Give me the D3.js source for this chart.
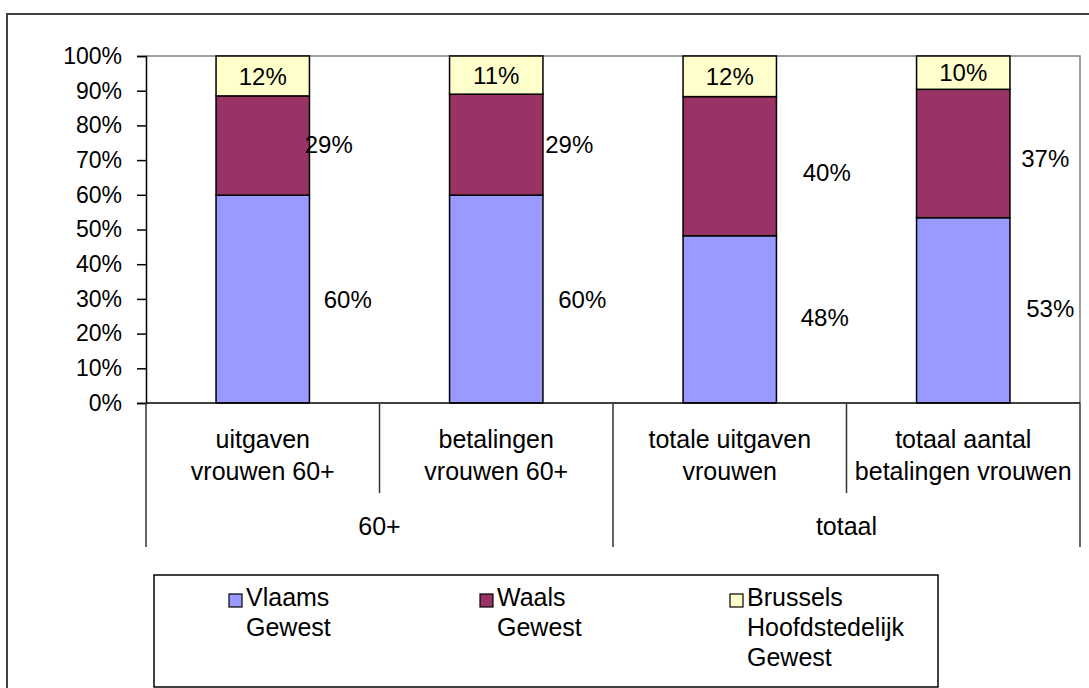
<!DOCTYPE html>
<html>
<head>
<meta charset="utf-8">
<script src="https://cdn.jsdelivr.net/npm/d3@7"></script>
<style>
  body { margin: 0; background: #fff; }
  svg text { font-family: "Liberation Sans", Arial, sans-serif; fill: #000; }
</style>
</head>
<body>
<svg width="1089" height="688"></svg>
<script>
// categorieen (twee niveaus)
const categories = [
  ['uitgaven', 'vrouwen 60+'],
  ['betalingen', 'vrouwen 60+'],
  ['totale uitgaven', 'vrouwen'],
  ['totaal aantal', 'betalingen vrouwen']
]
const groups = [
  {name: '60+', from: 0, to: 1},
  {name: 'totaal', from: 2, to: 3}
]
const seriesNames = [['Vlaams', 'Gewest'], ['Waals', 'Gewest'], ['Brussels', 'Hoofdstedelijk', 'Gewest']]
const vlaams = [59.9, 59.9, 48.2, 53.4]
const waals = [28.6, 29.1, 40.1, 37.0]
const brussels = [11.5, 11.0, 11.7, 9.6]
const yTicks = [0, 10, 20, 30, 40, 50, 60, 70, 80, 90, 100]
const colors = ['#9999FF', '#993366', '#FFFFCC']

// verschuiving van de labels (zoals handmatig verplaatst)
const labelDx = [[85, 86, 95, 87], [66, 73, 97, 82], [0, 0, 0, 0]]
const labelDy = [[0, 0, -2, -2], [-1, 0, 6, 5], [0, 0, 0, 0]]

const svg = d3.select('svg')
const pLeft = 146, pRight = 1080, pTop = 56, pBottom = 403

// buitenrand
svg.append('rect')
  .attr('x', 7).attr('y', 14).attr('width', 1100).attr('height', 700)
  .attr('fill', 'none').attr('stroke', '#404040').attr('stroke-width', 2)

const x = d3.scaleBand().domain(d3.range(categories.length)).range([pLeft, pRight]).paddingInner(0.6).paddingOuter(0.3)
const xBand = d3.scaleBand().domain(d3.range(categories.length)).range([pLeft, pRight])
const y = d3.scaleLinear().domain([0, 100]).range([pBottom, pTop])

// plotrand
svg.append('path')
  .attr('d', `M${pLeft},${pTop}H${pRight}V${pBottom}`)
  .attr('fill', 'none').attr('stroke', '#808080').attr('stroke-width', 1.5)

const table = categories.map((c, i) => ({i: i, v0: vlaams[i], v1: waals[i], v2: brussels[i]}))
const stack = d3.stack().keys(['v0', 'v1', 'v2'])(table)

const layers = svg.selectAll('g.layer').data(stack).enter().append('g')
  .attr('fill', (d, k) => colors[k])
layers.selectAll('rect').data(d => d).enter().append('rect')
  .attr('x', d => x(d.data.i))
  .attr('width', x.bandwidth())
  .attr('y', d => y(d[1]))
  .attr('height', d => y(d[0]) - y(d[1]))
  .attr('stroke', '#000').attr('stroke-width', 1.5)

// labels
stack.forEach((layer, k) => {
  layer.forEach((d, i) => {
    svg.append('text')
      .attr('x', x(i) + x.bandwidth() / 2 + labelDx[k][i])
      .attr('y', (y(d[0]) + y(d[1])) / 2 + labelDy[k][i])
      .attr('dy', '0.36em')
      .attr('text-anchor', 'middle')
      .attr('font-size', 24)
      .text(Math.round(d[1] - d[0]) + '%')
  })
})

// y-as
const yAxis = svg.append('g')
  .attr('transform', `translate(${pLeft},0)`)
  .call(d3.axisLeft(y).tickValues(yTicks).tickSize(9).tickPadding(15).tickFormat(d => d + '%'))
yAxis.select('.domain').attr('stroke', '#000').attr('stroke-width', 1.5)
yAxis.selectAll('line').attr('stroke', '#000').attr('stroke-width', 1.5)
yAxis.selectAll('text').attr('font-size', 23).attr('font-family', '"Liberation Sans", Arial, sans-serif')

// categorie-as
svg.append('line').attr('x1', pLeft).attr('x2', pRight).attr('y1', pBottom).attr('y2', pBottom)
  .attr('stroke', '#000').attr('stroke-width', 1.5)
const edges = d3.range(categories.length + 1).map(i => i < categories.length ? xBand(i) : pRight)
edges.forEach((e, i) => {
  const isGroupEdge = groups.some(g => g.from === i) || i === categories.length
  svg.append('line')
    .attr('x1', e).attr('x2', e).attr('y1', pBottom).attr('y2', isGroupEdge ? 547 : 493)
    .attr('stroke', '#333').attr('stroke-width', 1.5)
})
categories.forEach((c, i) => {
  c.forEach((line, j) => {
    svg.append('text')
      .attr('x', xBand(i) + xBand.bandwidth() / 2)
      .attr('y', 448 + j * 32)
      .attr('text-anchor', 'middle')
      .attr('font-size', 25)
      .text(line)
  })
})
groups.forEach(g => {
  svg.append('text')
    .attr('x', (xBand(g.from) + xBand(g.to) + xBand.bandwidth()) / 2)
    .attr('y', 535)
    .attr('text-anchor', 'middle')
    .attr('font-size', 25)
    .text(g.name)
})

// legenda
svg.append('rect')
  .attr('x', 154).attr('y', 575).attr('width', 784).attr('height', 112)
  .attr('fill', '#fff').attr('stroke', '#000').attr('stroke-width', 1.5)
const legendX = [229, 480, 730]
seriesNames.forEach((names, k) => {
  svg.append('rect')
    .attr('x', legendX[k]).attr('y', 594).attr('width', 13).attr('height', 13)
    .attr('fill', colors[k]).attr('stroke', '#000').attr('stroke-width', 1.2)
  names.forEach((n, j) => {
    svg.append('text')
      .attr('x', legendX[k] + 17)
      .attr('y', 606 + j * 30)
      .attr('font-size', 25)
      .text(n)
  })
})
</script>
</body>
</html>
